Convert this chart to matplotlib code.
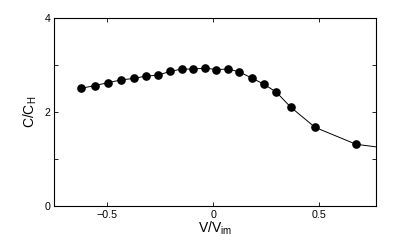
import matplotlib
matplotlib.use("Agg")
import matplotlib.pyplot as plt
import numpy as np

# measured points (markers)
v_pts = [-0.623, -0.558, -0.497, -0.434, -0.376, -0.319, -0.261, -0.204, -0.149, -0.094,
         -0.039, 0.014, 0.071, 0.123, 0.181, 0.238, 0.297, 0.365, 0.480, 0.673]
c_pts = [2.51, 2.57, 2.63, 2.69, 2.72, 2.77, 2.79, 2.87, 2.92, 2.92,
         2.94, 2.91, 2.92, 2.86, 2.73, 2.60, 2.43, 2.11, 1.68, 1.32]
# the line runs on past the right edge of the axes
v_tail = [0.86]
c_tail = [1.21]

plt.rcParams["font.family"] = ["Liberation Sans", "DejaVu Sans"]
plt.rcParams["mathtext.fontset"] = "custom"
plt.rcParams["mathtext.rm"] = "Liberation Sans"
plt.rcParams["mathtext.it"] = "Liberation Sans:italic"

fig = plt.figure(figsize=(4.15, 2.49), dpi=100)
ax = fig.add_axes([54.3 / 415, 1 - 206.3 / 249, (375.7 - 54.3) / 415, (206.3 - 18.3) / 249])

ax.plot(v_pts + v_tail, c_pts + c_tail, "k-", linewidth=0.7)
ax.plot(v_pts, c_pts, "ko", markersize=5.2, linestyle="none")

ax.set_xlim(-0.75, 0.766)
ax.set_ylim(0, 4)
ax.set_xticks([-0.5, 0, 0.5])
ax.set_xticklabels(["\u22120.5", "0", "0.5"])
ax.set_yticks([0, 1, 2, 3, 4])
ax.set_yticklabels(["0", "", "2", "", "4"])
ax.tick_params(direction="in", length=3, width=0.6, labelsize=7.7,
               top=True, right=True, pad=2.5)
for s in ax.spines.values():
    s.set_linewidth(0.8)

ax.set_xlabel(r"V/V$_{\rm im}$", fontsize=10, labelpad=0)
ax.set_ylabel(r"C/C$_{\rm H}$", fontsize=10, labelpad=4)

fig.savefig("out.png", dpi=100)
